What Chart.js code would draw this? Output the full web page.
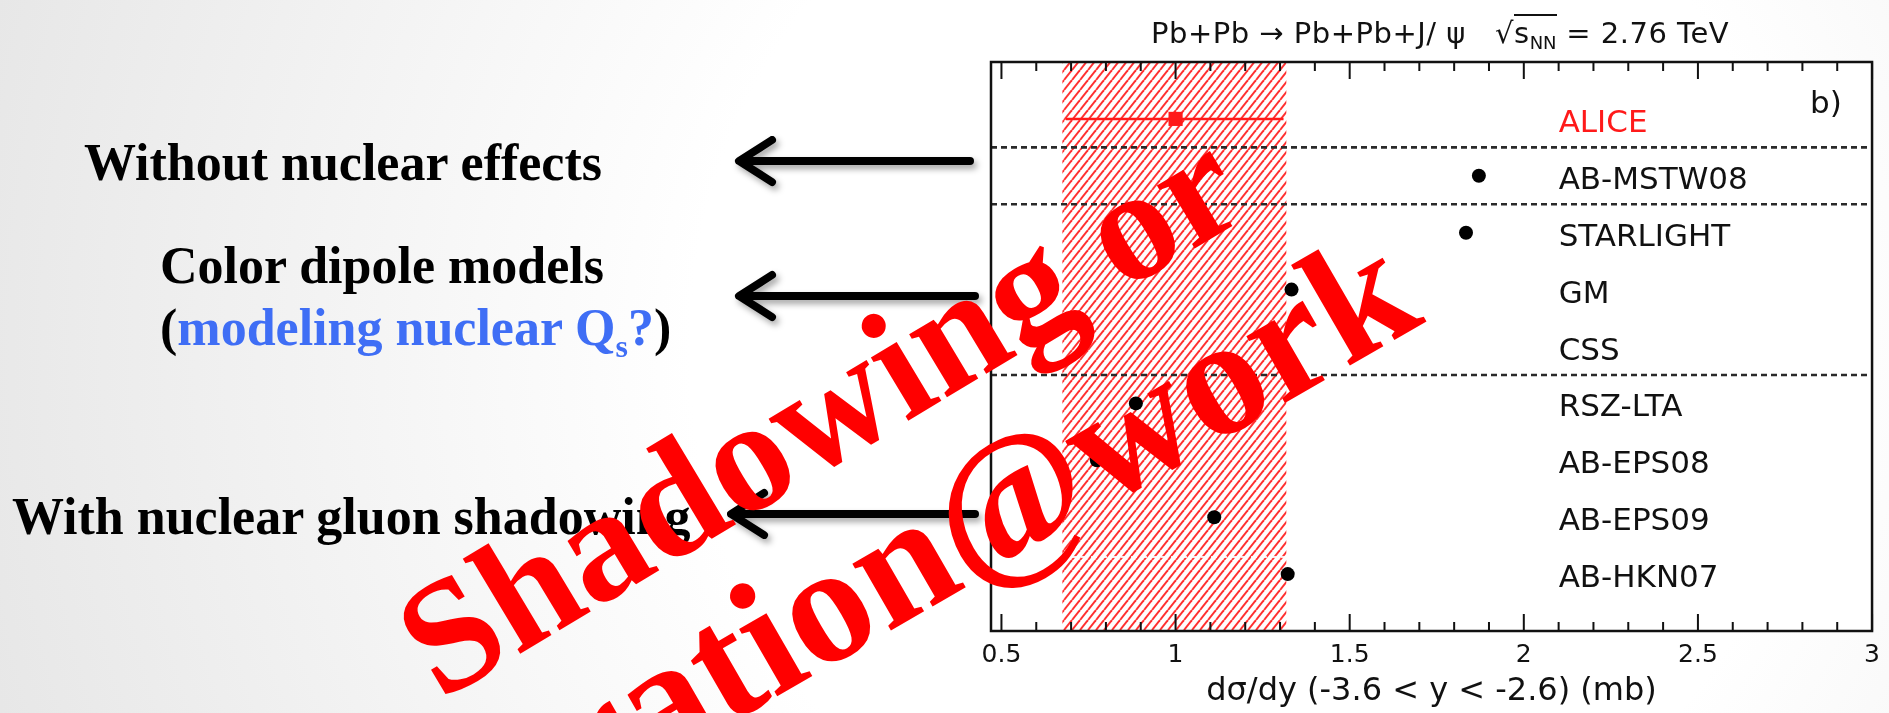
<!DOCTYPE html>
<html>
<head>
<meta charset="utf-8">
<script src="https://cdn.jsdelivr.net/npm/chart.js@4.4.0/dist/chart.umd.min.js"></script>
<style>
  html, body { margin: 0; padding: 0; }
  body {
    width: 1889px; height: 713px; overflow: hidden; position: relative;
    background: radial-gradient(circle at 1250px 350px, #ffffff 0px, #ffffff 560px, #e7e7e7 1300px);
  }
  #plot { position: absolute; left: 0; top: 0; }
  .slide {
    position: absolute; white-space: nowrap; color: #000;
    font-family: "Liberation Serif", "Times New Roman", serif; font-weight: bold;
    font-size: 52px; line-height: 52px;
  }
  .blue { color: #3f6ef5; }
  .slide sub { font-size: 32px; line-height: 0; vertical-align: baseline; position: relative; top: 12px; }
  #arrows { position: absolute; left: 0; top: 0; filter: drop-shadow(3px 4px 3px rgba(0,0,0,0.35)); }
  #title {
    position: absolute; left: 1151px; top: 19px; white-space: nowrap; color: #111;
    font-family: "DejaVu Sans", sans-serif; font-size: 29px; line-height: 29px; letter-spacing: 0.5px;
  }
  #title .ov { border-top: 2px solid #111; }
  #title sub { font-size: 18px; line-height: 0; vertical-align: baseline; position: relative; top: 6px; letter-spacing: 0; }
  .wm {
    position: absolute; white-space: nowrap; color: #ff0000;
    font-family: "Liberation Serif", "Times New Roman", serif; font-weight: bold;
    transform-origin: 0 0;
  }
  #wm1 { font-size: 160px; line-height: 160px; left: 846px; top: 458px; transform: rotate(-31deg) translate(-50%, -134px); }
  #wm2 { font-size: 168px; line-height: 168px; left: 878px; top: 638px; transform: rotate(-30deg) translate(-50%, -141px); }
</style>
</head>
<body>
<canvas id="plot" width="1889" height="713"></canvas>

<div id="title">Pb+Pb → Pb+Pb+J/ ψ&nbsp;&nbsp;&nbsp;√<span class="ov">s<sub>NN</sub></span> = 2.76 TeV</div>

<div class="slide" style="left:84px; top:137px;">Without nuclear effects</div>
<div class="slide" style="left:160px; top:240px;">Color dipole models</div>
<div class="slide" style="left:160px; top:302px;">(<span class="blue">modeling nuclear Q<sub>s</sub>?</span>)</div>
<div class="slide" style="left:12px; top:491px;">With nuclear gluon shadowing</div>

<svg id="arrows" width="1000" height="713">
  <g stroke="#000" stroke-width="8" fill="none" stroke-linecap="round" stroke-linejoin="round">
    <line x1="741" y1="161" x2="970" y2="161"/>
    <polyline points="772,140 739,161 772,182"/>
    <line x1="741" y1="296" x2="975" y2="296"/>
    <polyline points="772,275 739,296 772,317"/>
    <line x1="733" y1="514" x2="975" y2="514"/>
    <polyline points="764,493 731,514 764,535"/>
  </g>
</svg>

<div class="wm" id="wm1">Shadowing or</div>
<div class="wm" id="wm2">saturation@work</div>

<script>
// Pb+Pb -> Pb+Pb+J/psi coherent photoproduction, forward rapidity
const rowLabels = ['ALICE', 'AB-MSTW08', 'STARLIGHT', 'GM', 'CSS', 'RSZ-LTA', 'AB-EPS08', 'AB-EPS09', 'AB-HKN07'];
const rowPositions = [9, 8, 7, 6, 5, 4, 3, 2, 1];

// measurement (mb) with total uncertainty
const aliceValue = 1.00;
const aliceErrorRange = [0.685, 1.31];
const aliceBand = [0.675, 1.318];

// model predictions (mb), same order as rowLabels[1..]
const modelValues = [1.871, 1.834, 1.333, null, 0.886, 0.774, 1.111, 1.322];

// separators between model groups
const groupDividers = [8.5, 7.5, 4.5];
const faintDividers = [1.3];

const xTickValues = [0.5, 1, 1.5, 2, 2.5, 3];
const xTickLabels = ['0.5', '1', '1.5', '2', '2.5', '3'];
const xTitle = 'dσ/dy (-3.6 < y < -2.6) (mb)';

const X_MIN = 0.47, X_MAX = 3.0;
const LABEL_ANCHOR = 2.1;   // x value where the row names start

function hatchPattern(ctx) {
  const w = 8, h = 10;
  const tile = document.createElement('canvas');
  tile.width = w; tile.height = h;
  const t = tile.getContext('2d');
  t.fillStyle = '#ffffff';
  t.fillRect(0, 0, w, h);
  t.strokeStyle = '#ff3030';
  t.lineWidth = 2.0;
  for (const off of [-w, 0, w]) {
    t.beginPath();
    t.moveTo(off, h);
    t.lineTo(off + w, 0);
    t.stroke();
  }
  return ctx.createPattern(tile, 'repeat');
}

const decorations = {
  id: 'decorations',
  beforeDatasetsDraw(chart) {
    const { ctx, chartArea: a, scales: { x, y } } = chart;
    ctx.save();
    // white plotting frame
    ctx.fillStyle = '#ffffff';
    ctx.fillRect(a.left, a.top, a.right - a.left, a.bottom - a.top);
    // ALICE uncertainty band
    const bl = x.getPixelForValue(aliceBand[0]);
    const br = x.getPixelForValue(aliceBand[1]);
    ctx.fillStyle = hatchPattern(ctx);
    ctx.fillRect(bl, a.top, br - bl, a.bottom - a.top);
    // faint separators
    ctx.strokeStyle = 'rgba(255,255,255,0.85)';
    ctx.lineWidth = 2;
    ctx.setLineDash([6, 4]);
    for (const v of faintDividers) {
      const py = y.getPixelForValue(v);
      ctx.beginPath(); ctx.moveTo(a.left, py); ctx.lineTo(a.right, py); ctx.stroke();
    }
    // group separators
    ctx.strokeStyle = '#2a2a2a';
    ctx.lineWidth = 2.6;
    ctx.setLineDash([6, 4]);
    for (const v of groupDividers) {
      const py = y.getPixelForValue(v);
      ctx.beginPath(); ctx.moveTo(a.left, py); ctx.lineTo(a.right, py); ctx.stroke();
    }
    ctx.setLineDash([]);
    // ALICE horizontal error bar
    const ey = y.getPixelForValue(rowPositions[0]);
    ctx.strokeStyle = '#ff1a1a';
    ctx.lineWidth = 2.5;
    ctx.beginPath();
    ctx.moveTo(x.getPixelForValue(aliceErrorRange[0]), ey);
    ctx.lineTo(x.getPixelForValue(aliceErrorRange[1]), ey);
    ctx.stroke();
    ctx.restore();
  },
  afterDatasetsDraw(chart) {
    const { ctx, chartArea: a, scales: { x, y } } = chart;
    ctx.save();
    // frame
    ctx.strokeStyle = '#111111';
    ctx.lineWidth = 2.5;
    ctx.strokeRect(a.left, a.top, a.right - a.left, a.bottom - a.top);
    // inward ticks on bottom and top axes
    ctx.lineWidth = 2;
    const majors = new Set(xTickValues.map(v => Math.round(v * 10)));
    for (let k = 5; k <= 30; k++) {
      const px = x.getPixelForValue(k / 10);
      const len = majors.has(k) ? 17 : 9;
      ctx.beginPath();
      ctx.moveTo(px, a.bottom); ctx.lineTo(px, a.bottom - len);
      ctx.moveTo(px, a.top); ctx.lineTo(px, a.top + len);
      ctx.stroke();
    }
    // row names
    ctx.font = '31px "DejaVu Sans", sans-serif';
    ctx.textAlign = 'left';
    ctx.textBaseline = 'alphabetic';
    const lx = x.getPixelForValue(LABEL_ANCHOR);
    rowLabels.forEach((name, i) => {
      ctx.fillStyle = i === 0 ? '#ff1a1a' : '#111111';
      ctx.fillText(name, lx, y.getPixelForValue(rowPositions[i]) + 13);
    });
    // panel tag
    ctx.fillStyle = '#111111';
    ctx.fillText('b)', 1810, 113);
    ctx.restore();
  }
};

new Chart(document.getElementById('plot'), {
  type: 'scatter',
  data: {
    datasets: [
      {
        label: rowLabels[0],
        data: [{ x: aliceValue, y: rowPositions[0] }],
        pointStyle: 'rect',
        pointRadius: 10,
        backgroundColor: '#ff1a1a',
        borderColor: '#ff1a1a',
        borderWidth: 0
      },
      {
        label: 'models',
        data: modelValues.map((v, i) => ({ x: v, y: rowPositions[i + 1] })),
        pointStyle: 'circle',
        pointRadius: 7,
        backgroundColor: '#000000',
        borderColor: '#000000',
        borderWidth: 0
      }
    ]
  },
  options: {
    responsive: false,
    animation: false,
    events: [],
    layout: { padding: { left: 991, right: 9, top: 62, bottom: 0 } },
    plugins: { legend: { display: false }, tooltip: { enabled: false }, title: { display: false } },
    scales: {
      x: {
        type: 'linear',
        min: X_MIN,
        max: X_MAX,
        grid: { display: false, drawTicks: false },
        border: { display: false },
        afterBuildTicks: s => { s.ticks = xTickValues.map(v => ({ value: v })); },
        afterFit: s => { s.height = 82; },
        ticks: {
          autoSkip: false,
          maxRotation: 0,
          padding: 9,
          color: '#111111',
          font: { family: 'DejaVu Sans', size: 25 },
          callback: (v, i) => xTickLabels[i]
        },
        title: {
          display: true,
          text: xTitle,
          color: '#111111',
          font: { family: 'DejaVu Sans', size: 32 },
          padding: { top: 0, bottom: 2 }
        }
      },
      y: { type: 'linear', min: 0, max: 10, display: false }
    }
  },
  plugins: [decorations]
});
</script>
</body>
</html>
